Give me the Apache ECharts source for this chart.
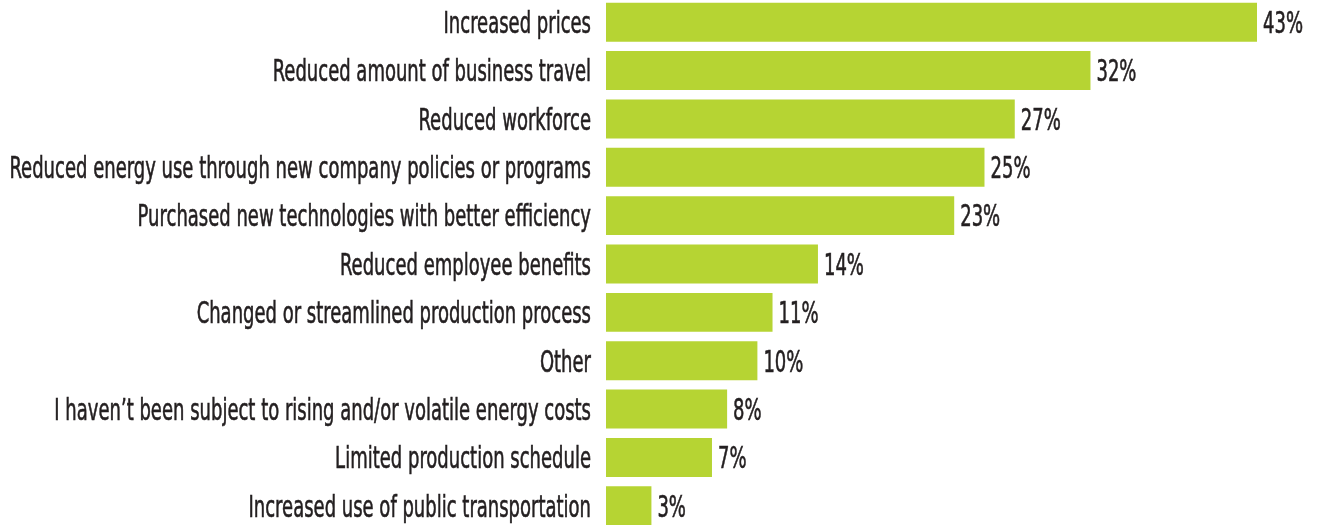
<!DOCTYPE html>
<html>
<head>
<meta charset="utf-8">
<script src="https://cdn.jsdelivr.net/npm/echarts@6/dist/echarts.min.js"></script>
<style>
html,body{margin:0;padding:0;background:#fff;}
#chart{width:1323px;height:525px;}
</style>
</head>
<body>
<div id="chart"></div>
<script>
var categories = [
  "Increased prices",
  "Reduced amount of business travel",
  "Reduced workforce",
  "Reduced energy use through new company policies or programs",
  "Purchased new technologies with better efficiency",
  "Reduced employee benefits",
  "Changed or streamlined production process",
  "Other",
  "I haven\u2019t been subject to rising and/or volatile energy costs",
  "Limited production schedule",
  "Increased use of public transportation"
];
var values = [43, 32, 27, 25, 23, 14, 11, 10, 8, 7, 3];

var FONT = '"DejaVu Sans Condensed", "Liberation Sans Narrow", sans-serif';
var FS = 30, SX = 0.667, INK = '#231f20';
var chart = echarts.init(document.getElementById('chart'), null, {renderer: 'canvas'});
chart.setOption({
  animation: false,
  grid: {left: 606, right: 66, top: -2, height: 532, containLabel: false, outerBoundsMode: 'none'},
  xAxis: {type: 'value', min: 0, max: 43, show: false},
  yAxis: {
    type: 'category', data: categories, inverse: true,
    axisLine: {show: false}, axisTick: {show: false}, splitLine: {show: false},
    axisLabel: {show: false}
  },
  series: [{
    type: 'bar', data: values, barCategoryGap: '19.5%',
    itemStyle: {color: '#b6d433'}
  }]
});

// Condensed labels: real text, positioned through the chart's own scales
var g = [];
var x0 = chart.convertToPixel({xAxisIndex: 0}, 0);
categories.forEach(function (c, i) {
  var y = chart.convertToPixel({yAxisIndex: 0}, i) + 3;
  var x1 = chart.convertToPixel({xAxisIndex: 0}, values[i]);
  g.push({type: 'text', x: x0 - 15, y: y, scaleX: SX, silent: true,
    style: {text: c, align: 'right', verticalAlign: 'middle', fontSize: FS, fontFamily: FONT,
      fill: INK, stroke: INK, lineWidth: 0.6}});
  g.push({type: 'text', x: x1 + 6, y: y, scaleX: SX, silent: true,
    style: {text: values[i] + '%', align: 'left', verticalAlign: 'middle', fontSize: FS, fontFamily: FONT,
      fill: INK, stroke: INK, lineWidth: 0.6}});
});
chart.setOption({graphic: g});
</script>
</body>
</html>
